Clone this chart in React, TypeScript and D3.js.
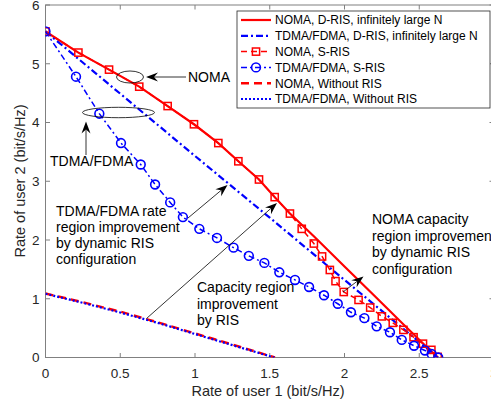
import React from "react";
import * as d3 from "d3";

// ---- data ----
const nomaDrisX = [0, 0.22, 0.425, 0.627, 0.817, 0.993, 1.156, 1.29, 1.428, 1.533, 1.635, 1.8, 2.0, 2.2, 2.4, 2.55, 2.625];
const nomaDrisY = [5.55, 5.19, 4.9, 4.61, 4.28, 3.97, 3.65, 3.34, 3.03, 2.73, 2.45, 2.05, 1.55, 1.05, 0.55, 0.18, 0];

const tdmaDrisX = [0, 0.5, 1.0, 1.5, 2.0, 2.625];
const tdmaDrisY = [5.55, 4.49, 3.43, 2.38, 1.32, 0];

const nomaSrisX = [0, 0.22, 0.425, 0.627, 0.817, 0.993, 1.156, 1.29, 1.428, 1.533, 1.635, 1.714, 1.795, 1.85, 1.902, 1.94, 1.995, 2.094, 2.172, 2.25, 2.323, 2.394, 2.462, 2.525, 2.581, 2.623];
const nomaSrisY = [5.55, 5.19, 4.9, 4.61, 4.28, 3.97, 3.65, 3.34, 3.03, 2.73, 2.45, 2.19, 1.94, 1.72, 1.49, 1.3, 1.115, 0.98, 0.85, 0.7, 0.59, 0.47, 0.345, 0.235, 0.13, 0.01];

const tdmaSrisX = [0, 0.204, 0.36, 0.505, 0.637, 0.733, 0.834, 0.919, 1.029, 1.147, 1.258, 1.36, 1.464, 1.564, 1.669, 1.763, 1.863, 1.955, 2.043, 2.133, 2.215, 2.304, 2.383, 2.465, 2.538, 2.583, 2.627];
const tdmaSrisY = [5.55, 4.78, 4.15, 3.65, 3.285, 2.945, 2.64, 2.39, 2.19, 2.035, 1.87, 1.73, 1.61, 1.45, 1.32, 1.2, 1.06, 0.915, 0.77, 0.67, 0.53, 0.43, 0.3, 0.2, 0.12, 0.06, 0];

const nomaNoRisX = [0, 0.25, 0.5, 0.75, 1.0, 1.25, 1.535];
const nomaNoRisY = [1.09, 0.94, 0.78, 0.6, 0.41, 0.22, 0];

const tdmaNoRisX = [0, 0.25, 0.5, 0.75, 1.0, 1.25, 1.53];
const tdmaNoRisY = [1.085, 0.93, 0.765, 0.59, 0.4, 0.21, 0];

const xTicks = [0, 0.5, 1, 1.5, 2, 2.5, 3];
const yTicks = [0, 1, 2, 3, 4, 5, 6];

const legendLabels = [
  "NOMA, D-RIS, infinitely large N",
  "TDMA/FDMA, D-RIS, infinitely large N",
  "NOMA, S-RIS",
  "TDMA/FDMA, S-RIS",
  "NOMA, Without RIS",
  "TDMA/FDMA, Without RIS",
];

const RED = "#ff0000";
const BLUE = "#0000ff";
const FONT = "'Liberation Sans', Arial, Helvetica, sans-serif";

type Pt = [number, number];
const zip = (xs: number[], ys: number[]): Pt[] => xs.map((v, i) => [v, ys[i]]);

function Arrow({ x1, y1, x2, y2 }: { x1: number; y1: number; x2: number; y2: number }) {
  const ang = Math.atan2(y2 - y1, x2 - x1);
  const L = 12, W = 4.5, back = 8;
  const c = Math.cos(ang), s = Math.sin(ang);
  const bx = x2 - L * c, by = y2 - L * s;
  const nx = x2 - back * c, ny = y2 - back * s;
  const p = [
    [x2, y2],
    [bx - W * s, by + W * c],
    [nx, ny],
    [bx + W * s, by - W * c],
  ];
  return (
    <g>
      <line x1={x1} y1={y1} x2={nx} y2={ny} stroke="#000" strokeWidth={0.8} />
      <polygon points={p.map((q) => q.join(",")).join(" ")} fill="#000" />
    </g>
  );
}

export default function App() {
  const W = 491, H = 404;
  const x = d3.scaleLinear().domain([0, 3]).range([45.5, 494]);
  const y = d3.scaleLinear().domain([0, 6]).range([357.5, 5]);
  const line = d3.line<Pt>().x((d) => x(d[0])).y((d) => y(d[1]));

  const series = [
    { pts: zip(nomaDrisX, nomaDrisY), color: RED, w: 2.2, dash: "", marker: "" },
    { pts: zip(tdmaDrisX, tdmaDrisY), color: BLUE, w: 2.2, dash: "7 3 2 3", marker: "" },
    { pts: zip(nomaSrisX, nomaSrisY), color: RED, w: 1.5, dash: "6 4", marker: "square" },
    { pts: zip(tdmaSrisX, tdmaSrisY), color: BLUE, w: 1.5, dash: "6 3 2 3", marker: "circle" },
    { pts: zip(nomaNoRisX, nomaNoRisY), color: RED, w: 2.4, dash: "8 5", marker: "" },
    { pts: zip(tdmaNoRisX, tdmaNoRisY), color: BLUE, w: 2.2, dash: "2 2", marker: "" },
  ];

  const x0 = x(0), x1 = x(3), y0 = y(0), y1 = y(6);
  const axisColor = "#808080";
  const textColor = "#262626";

  const marker = (kind: string, cx: number, cy: number, color: string, key: number) =>
    kind === "square" ? (
      <rect key={key} x={cx - 3.6} y={cy - 3.6} width={7.2} height={7.2} fill="none" stroke={color} strokeWidth={1.5} />
    ) : kind === "circle" ? (
      <circle key={key} cx={cx} cy={cy} r={4.4} fill="none" stroke={color} strokeWidth={1.6} />
    ) : null;

  const legX = 237, legY = 11, legRow = 15.8;

  return (
    <svg width={W} height={H} style={{ position: "absolute", left: 0, top: 0, background: "#fff" }} fontFamily={FONT}>
      <rect x={0} y={0} width={W} height={H} fill="#fff" />
      <defs>
        <clipPath id="plotClip">
          <rect x={x0} y={y1} width={x1 - x0} height={y0 - y1} />
        </clipPath>
      </defs>

      {/* axes box */}
      <rect x={x0} y={y1} width={x1 - x0} height={y0 - y1} fill="none" stroke={axisColor} strokeWidth={1} />
      {xTicks.map((t) => (
        <g key={"xt" + t}>
          <line x1={x(t)} x2={x(t)} y1={y0} y2={y0 - 4.5} stroke={axisColor} />
          <line x1={x(t)} x2={x(t)} y1={y1} y2={y1 + 4.5} stroke={axisColor} />
          <text x={x(t)} y={y0 + 20.5} textAnchor="middle" fontSize={13.5} fill={textColor}>{t}</text>
        </g>
      ))}
      {yTicks.map((t) => (
        <g key={"yt" + t}>
          <line x1={x0} x2={x0 + 4.5} y1={y(t)} y2={y(t)} stroke={axisColor} />
          <line x1={x1} x2={x1 - 4.5} y1={y(t)} y2={y(t)} stroke={axisColor} />
          <text x={x0 - 6} y={y(t) + 4.8} textAnchor="end" fontSize={13.5} fill={textColor}>{t}</text>
        </g>
      ))}
      <text x={268} y={396} textAnchor="middle" fontSize={14.5} fill={textColor}>Rate of user 1 (bit/s/Hz)</text>
      <text transform={`translate(25,181) rotate(-90)`} textAnchor="middle" fontSize={14.5} fill={textColor}>Rate of user 2 (bit/s/Hz)</text>

      {/* data */}
      <g clipPath="url(#plotClip)">
        {series.map((s, i) => (
          <path key={"l" + i} d={line(s.pts) || ""} fill="none" stroke={s.color} strokeWidth={s.w} strokeDasharray={s.dash || undefined} />
        ))}
        {series.map((s, i) => s.pts.map((p, j) => marker(s.marker, x(p[0]), y(p[1]), s.color, i * 100 + j)))}
      </g>

      {/* annotations */}
      <ellipse cx={130} cy={77} rx={13.5} ry={6} fill="none" stroke="#000" strokeWidth={0.8} />
      <ellipse cx={118.5} cy={112.5} rx={36} ry={5.2} fill="none" stroke="#000" strokeWidth={0.8} />
      <Arrow x1={186} y1={77} x2={146} y2={77} />
      <Arrow x1={86} y1={155} x2={86} y2={121.5} />
      <Arrow x1={188} y1={218} x2={227.5} y2={185} />
      <Arrow x1={146.5} y1={318.5} x2={277} y2={203} />
      <Arrow x1={343} y1={292} x2={363.5} y2={276.5} />

      <g fontSize={14} fill="#000">
        <text x={188} y={82}>NOMA</text>
        <text x={50} y={166}>TDMA/FDMA</text>
        <text x={56} y={215.5}>TDMA/FDMA rate</text>
        <text x={56} y={231.8}>region improvement</text>
        <text x={56} y={248.1}>by dynamic RIS</text>
        <text x={56} y={264.4}>configuration</text>
        <text x={197} y={292}>Capacity region</text>
        <text x={197} y={308.5}>improvement</text>
        <text x={197} y={325}>by RIS</text>
        <text x={372} y={224}>NOMA capacity</text>
        <text x={372} y={240.5}>region improvement</text>
        <text x={372} y={257}>by dynamic RIS</text>
        <text x={372} y={273.5}>configuration</text>
      </g>

      {/* legend */}
      <rect x={legX} y={legY} width={253} height={97} fill="#fff" stroke="#262626" strokeWidth={0.8} />
      {legendLabels.map((lab, i) => {
        const s = series[i];
        const cy = legY + 9 + i * legRow;
        return (
          <g key={"lg" + i}>
            <line x1={legX + 4} x2={legX + 34} y1={cy} y2={cy} stroke={s.color} strokeWidth={s.w} strokeDasharray={s.dash || undefined} />
            {marker(s.marker, legX + 19, cy, s.color, 999)}
            <text x={legX + 38} y={cy + 4.3} fontSize={12} fill="#000">{lab}</text>
          </g>
        );
      })}
    </svg>
  );
}
